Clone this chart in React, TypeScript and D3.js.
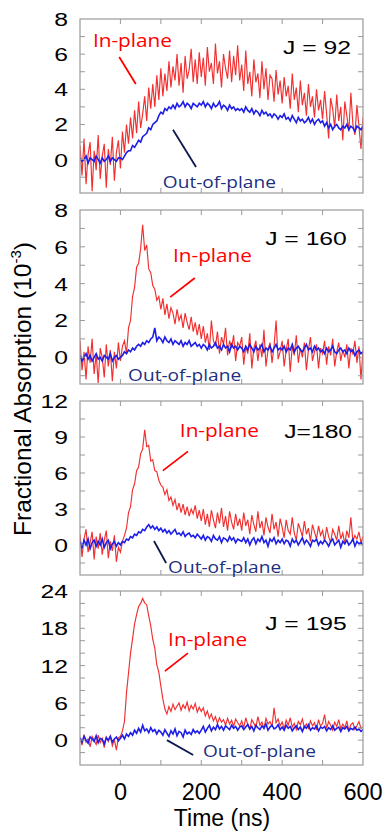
import * as d3 from "d3";

// sampling grid of the traces (ns)
const TIME = d3.range(-100, 601, 5);

// J = 92
const inPlane92 = [
  0.8, -0.9, 1.2, -1.4, 0.3, 1.0, -1.8, 0.5, -0.6, 1.4, -1.1, 0.2, 0.9, -1.6, 0.6, -0.3, 1.3, -1.2, 0.4, 1.1,
  -0.5, 1.6, 0.4, 2.0, 0.9, 2.4, 1.2, 2.8, 1.5, 3.3, 1.8, 2.6, 3.6, 2.2, 4.1, 2.9, 4.3, 3.0, 4.8, 3.4,
  5.2, 3.6, 4.9, 3.9, 5.6, 4.1, 5.3, 4.5, 6.0, 4.2, 5.5, 3.8, 5.9, 4.6, 5.1, 6.3, 4.4, 5.7, 4.3, 6.1,
  4.7, 5.8, 4.2, 6.4, 5.0, 5.5, 4.3, 6.6, 4.9, 5.6, 4.1, 6.0, 5.2, 4.6, 6.2, 4.4, 5.9, 4.8, 6.5, 4.5,
  5.4, 3.9, 6.2, 4.3, 5.0, 3.6, 5.7, 4.4, 4.9, 3.5, 5.6, 4.0, 5.2, 3.4, 4.8, 4.6, 3.3, 5.1, 3.7, 4.5,
  3.2, 4.7, 3.6, 4.2, 2.9, 4.9, 3.4, 4.1, 2.7, 4.5, 3.1, 3.8, 2.5, 4.3, 3.0, 3.6, 2.4, 4.0, 2.8, 3.4,
  2.3, 3.9, 2.6, 1.2, 3.5, 2.9, 1.8, 3.7, 2.2, 3.0, 1.1, 3.3, 2.5, 1.6, 3.8, 2.0, 1.4, 3.1, 1.9, 0.6, 2.4,
];
const outPlane92 = [
  0.1, -0.1, 0.0, 0.2, -0.2, 0.1, 0.0, -0.1, 0.2, 0.0, -0.2, 0.1, -0.1, 0.0, 0.2, -0.1, 0.1, 0.0, -0.1, 0.1,
  0.1, 0.0, 0.2, 0.4, 0.5, 0.5, 0.8, 0.7, 0.9, 1.1, 1.0, 1.3, 1.4, 1.5, 1.8, 1.7, 2.0, 2.1, 2.2, 2.5,
  2.7, 2.6, 2.9, 2.8, 3.0, 2.9, 3.1, 2.9, 3.2, 3.0, 3.1, 3.3, 3.0, 3.2, 3.1, 2.9, 3.2, 3.1, 3.0, 3.2,
  3.1, 3.3, 3.0, 3.2, 3.1, 2.9, 3.2, 3.0, 3.1, 3.3, 2.9, 3.1, 3.0, 2.8, 3.1, 2.9, 3.0, 2.8, 2.9, 2.8,
  2.9, 2.7, 3.0, 2.8, 2.7, 2.9, 2.6, 2.8, 2.7, 2.5, 2.8, 2.6, 2.7, 2.5, 2.6, 2.4, 2.6, 2.5, 2.3, 2.5,
  2.4, 2.6, 2.3, 2.4, 2.2, 2.5, 2.3, 2.1, 2.4, 2.2, 2.3, 2.1, 2.2, 2.4, 2.1, 2.3, 2.0, 2.2, 2.3, 2.1,
  2.2, 1.9, 2.1, 1.8, 2.0, 1.7, 1.9, 2.0, 1.8, 1.7, 1.9, 1.8, 2.0, 1.7, 1.9, 1.8, 1.6, 1.9, 1.8, 1.7, 1.9,
];

// J = 160
const inPlane160 = [
  0.9, -0.7, 0.3, -1.2, 0.6, -0.3, 1.0, -0.9, 0.2, -1.4, 0.5, 0.0, -1.1, 0.7, -0.5, 0.4, -1.3, 0.3, -0.6, 0.8,
  -0.2, 0.6, 0.9, 0.2, 1.6, 2.0, 3.3, 3.8, 4.9, 5.1, 5.9, 7.2, 5.8, 6.1, 4.8, 4.6, 3.9, 3.7, 3.1, 3.3,
  2.6, 3.2, 2.3, 2.9, 2.1, 2.7, 2.4, 1.8, 2.6, 2.0, 2.3, 1.6, 2.4, 1.9, 1.5, 2.2, 1.4, 1.9, 1.2, 1.8,
  1.0, 1.7, 0.8, 1.3, 0.4, 2.0, 0.9, 0.6, 1.4, 0.2, 1.1, 0.7, 1.6, 0.1, 0.9, 0.5, 1.2, -0.2, 0.8, 0.6,
  1.1, -0.4, 0.6, 0.2, 1.3, -0.6, 0.5, 0.9, -0.2, 0.7, 0.0, 1.5, -0.5, 0.4, 0.8, -0.3, 0.6, 2.0, -0.1, 0.3,
  0.9, -0.5, 0.4, 1.0, -0.8, 0.6, 0.1, 1.2, -0.3, 0.5, 0.0, 0.8, -0.7, 0.4, 1.1, -0.2, 0.3, 0.7, -0.6, 0.5,
  0.2, 0.9, -0.4, 0.6, 0.1, 1.0, -0.5, 0.3, 0.8, -0.2, 0.4, 0.0, 0.7, -0.6, 0.5, 0.2, 0.9, -0.3, 0.6, -1.2, 0.4,
];
const outPlane160 = [
  0.1, -0.2, 0.0, 0.2, -0.1, 0.1, -0.2, 0.0, 0.2, -0.1, 0.0, -0.2, 0.1, 0.0, -0.1, 0.2, -0.2, 0.0, 0.1, -0.1,
  0.0, 0.1, 0.3, 0.2, 0.4, 0.3, 0.5, 0.4, 0.6, 0.7, 0.6, 0.8, 0.7, 0.9, 0.8, 1.0, 1.1, 1.6, 0.9, 1.1,
  1.0, 0.8, 1.1, 0.9, 0.8, 1.0, 0.7, 0.9, 0.8, 0.7, 0.9, 0.6, 0.8, 0.7, 0.9, 0.6, 0.7, 0.8, 0.6, 0.7,
  0.5, 0.7, 0.6, 0.4, 0.7, 0.5, 0.6, 0.8, 0.5, 0.6, 0.4, 0.7, 0.5, 0.6, 0.3, 0.7, 0.5, 0.6, 0.4, 0.6,
  0.5, 0.3, 0.6, 0.4, 0.7, 0.5, 0.3, 0.6, 0.4, 0.5, 0.7, 0.3, 0.5, 0.4, 0.6, 0.3, 0.5, 0.7, 0.4, 0.5,
  0.4, 0.6, 0.3, 0.5, 0.4, 0.7, 0.3, 0.5, 0.6, 0.4, 0.3, 0.5, 0.7, 0.4, 0.5, 0.3, 0.6, 0.4, 0.5, 0.3,
  0.4, 0.2, 0.5, 0.3, 0.4, 0.6, 0.3, 0.2, 0.4, 0.5, 0.3, 0.4, 0.2, 0.5, 0.3, 0.4, 0.1, 0.3, 0.4, 0.2, 0.3,
];

// J = 180
const inPlane180 = [
  0.9, -1.0, 0.5, 1.3, -0.6, 0.2, 1.1, -1.2, 0.7, -0.3, 1.0, -0.8, 0.4, 1.2, -1.1, 0.3, -0.5, 0.8, -1.4, -0.2,
  -0.6, 0.3, 0.8, 1.4, 2.7, 3.2, 4.6, 5.1, 6.2, 6.5, 7.6, 8.0, 9.6, 8.2, 8.3, 7.0, 7.1, 6.2, 6.1, 5.4,
  5.0, 4.8, 4.2, 4.6, 3.7, 4.0, 3.3, 3.8, 2.9, 3.5, 2.7, 3.4, 2.5, 3.2, 2.4, 3.0, 2.6, 3.3, 2.2, 2.9,
  2.0, 3.0, 1.7, 2.6, 1.5, 2.9, 2.1, 1.4, 2.7, 1.8, 3.1, 1.5, 2.4, 1.2, 2.8, 1.9, 1.3, 2.6, 1.6, 2.2,
  1.2, 2.7, 1.6, 2.1, 0.9, 2.5, 1.7, 1.1, 2.8, 1.4, 2.0, 0.8, 2.3, 1.5, 1.0, 2.6, 1.3, 1.9, 0.7, 2.2,
  1.5, 0.6, 2.1, 1.2, 0.9, 2.3, 1.0, 0.4, 1.8, 1.3, 0.7, 2.0, 0.9, 1.4, 0.3, 1.7, 1.1, 0.5, 1.6, 0.8,
  1.2, 0.3, 1.5, 0.7, 0.2, 1.3, 0.9, 0.4, 1.6, 0.5, 1.0, 0.1, 1.2, 0.6, 2.3, 0.3, 0.8, 0.5, 1.1, 0.2, 0.7,
];
const outPlane180 = [
  0.3, -0.2, 0.4, 0.0, 0.5, -0.3, 0.2, 0.4, -0.1, 0.3, 0.0, 0.5, -0.2, 0.2, 0.4, -0.3, 0.1, 0.3, -0.1, 0.2,
  0.0, 0.3, 0.2, 0.5, 0.4, 0.7, 0.6, 0.9, 0.8, 1.1, 1.0, 1.3, 1.2, 1.5, 1.7, 1.4, 1.6, 1.3, 1.5, 1.2,
  1.4, 1.1, 1.3, 1.0, 1.2, 0.9, 1.1, 1.3, 0.9, 1.0, 0.8, 1.1, 0.7, 0.9, 1.0, 0.7, 0.8, 0.6, 0.9, 0.7,
  0.5, 0.8, 0.4, 0.7, 0.6, 0.3, 0.8, 0.5, 0.4, 0.7, 0.2, 0.6, 0.5, 0.3, 0.7, 0.4, 0.6, 0.2, 0.5, 0.4,
  0.3, 0.6, 0.2, 0.5, 0.0, 0.4, 0.6, 0.1, 0.5, 0.3, 0.7, 0.2, 0.4, -0.1, 0.5, 0.3, 0.6, 0.1, 0.4, 0.2,
  0.5, 0.1, 0.4, 0.3, -0.1, 0.5, 0.2, 0.4, 0.0, 0.3, 0.6, 0.1, 0.4, 0.2, -0.1, 0.4, 0.3, 0.5, 0.0, 0.3,
  0.1, 0.4, 0.2, -0.1, 0.3, 0.5, 0.0, 0.2, 0.4, -0.2, 0.3, 0.1, 0.4, 0.0, 0.2, 0.5, -0.1, 0.3, 0.1, 0.2, 0.0,
];

// J = 195
const inPlane195 = [
  0.4, -0.8, 0.9, -0.3, 0.2, -1.1, 0.6, 0.0, -0.7, 0.8, -0.4, 0.3, -1.2, 0.5, -0.2, 0.7, -0.9, 0.1, -1.6, 0.4,
  0.6, 1.5, 3.0, 7.6, 10.8, 14.0, 16.3, 18.7, 20.2, 21.5, 22.0, 22.8, 22.1, 21.8, 20.0, 18.4, 16.2, 14.8, 12.1, 10.9,
  8.7, 6.6, 5.0, 4.2, 5.4, 4.6, 5.8, 4.9, 5.5, 6.0, 4.8, 5.7, 5.1, 6.1, 4.7, 5.6, 5.0, 5.9, 4.5, 5.3,
  4.6, 5.2, 3.9, 4.7, 3.5, 4.2, 3.1, 3.8, 2.7, 3.6, 2.9, 3.3, 2.4, 3.5, 2.6, 3.2, 2.2, 3.4, 2.8, 2.3,
  3.1, 2.0, 3.6, 2.5, 1.8, 3.3, 2.7, 2.1, 3.8, 2.4, 2.9, 1.9, 3.5, 2.6, 3.0, 2.2, 5.2, 2.8, 3.4, 2.3,
  2.9, 1.8, 3.2, 2.4, 3.6, 2.1, 2.7, 1.7, 3.0, 2.5, 3.4, 2.0, 2.6, 1.9, 3.1, 2.3, 2.8, 1.6, 3.3, 2.2,
  2.7, 4.1, 1.9, 3.0, 2.4, 1.6, 2.9, 2.2, 3.3, 1.8, 2.6, 2.0, 3.1, 1.5, 2.5, 2.8, 1.7, 2.3, 3.0, 1.9, 2.1,
];
const outPlane195 = [
  0.4, -0.3, 0.6, 0.0, -0.5, 0.5, 0.2, -0.2, 0.7, -0.4, 0.3, 0.1, -0.6, 0.4, 0.0, 0.6, -0.3, 0.2, 0.5, -0.1,
  0.3, 0.8, 0.2, 1.0, 0.6, 1.2, 0.8, 1.6, 1.1, 1.9, 1.3, 2.4, 1.5, 1.8, 1.2, 2.0, 1.4, 1.7, 1.0, 1.6,
  1.3, 0.8, 1.7, 1.1, 0.6, 1.5, 1.0, 1.8, 0.7, 1.4, 1.2, 0.5, 1.6, 1.0, 1.3, 0.9, 1.7, 1.2, 1.5, 1.1,
  1.6, 2.2, 1.3, 1.9, 2.4, 1.5, 2.1, 1.7, 2.5, 1.8, 2.2, 1.6, 2.3, 2.0, 1.7, 2.4, 1.9, 2.2, 1.6, 2.1,
  2.3, 1.7, 2.1, 2.5, 1.8, 2.2, 1.5, 2.4, 2.0, 1.7, 2.3, 1.9, 2.6, 1.6, 2.1, 2.4, 1.8, 2.0, 2.5, 1.7,
  2.1, 1.6, 2.4, 1.9, 2.2, 1.5, 2.0, 2.3, 1.7, 2.1, 1.4, 2.2, 1.9, 2.5, 1.6, 2.0, 1.8, 2.3, 1.5, 2.1,
  1.9, 2.2, 1.5, 2.0, 1.7, 2.3, 1.6, 1.9, 2.1, 1.4, 2.0, 1.8, 2.2, 1.5, 1.9, 1.7, 2.1, 1.6, 1.8, 1.4, 1.7,
];

const IN_PLANE = [inPlane92, inPlane160, inPlane180, inPlane195];
const OUT_PLANE = [outPlane92, outPlane160, outPlane180, outPlane195];
const J_LABELS = ["J = 92", "J = 160", "J=180", "J = 195"];
const Y_DOMAINS = [[-1.9, 8], [-1.45, 8], [-2.5, 12], [-4, 24]];
const Y_TICK_LABELS = [[0, 2, 4, 6, 8], [0, 2, 4, 6, 8], [0, 3, 6, 9, 12], [0, 6, 12, 18, 24]];
const Y_MINOR_STEP = [1, 1, 1.5, 2];
const X_TICKS = [0, 100, 200, 300, 400, 500];
const X_TICK_LABELS = [0, 200, 400, 600];

// annotation anchors in data units [time, value]
const J_POS = [[402, 6.0], [358, 6.1], [405, 8.9], [358, 17.7]];
const IN_TEXT = [[-68, 6.4], [130, 5.2], [147, 9.0], [118, 15.1]];
const IN_LEAD = [[[-3, 5.84], [38, 4.3]], [[123, 3.27], [184, 4.31]], [[105, 6.2], [167, 7.8]], [[110, 11.1], [167, 14.0]]];
const OUT_TEXT = [[105, -1.62], [19, -1.29], [118, -2.33], [204, -2.71]];
const OUT_LEAD = [[[130, 1.7], [187, -0.42]], null, [[83, 0.33], [113, -1.5]], [[115, 0.0], [180, -2.4]]];

const W = 384;
const H = 833;
const TOPS = [19, 210, 401, 591];
const PH = 174;
const ARIAL = "'Liberation Sans', Arial, sans-serif";
const CAL = "'Open Sans', 'Noto Sans', sans-serif";
const FRAME = "#9a9a9a";
const RED = "#f01818";
const BLUE = "#1e1ee6";
const NAVY = "#1c2f80";

const x = d3.scaleLinear().domain([-100, 600]).range([80, 363]);

const Panel = ({ i }: { i: number }) => {
  const top = TOPS[i];
  const [d0, d1] = Y_DOMAINS[i];
  const y = d3.scaleLinear().domain([d0, d1]).range([top + PH, top]);
  const step = Y_MINOR_STEP[i];
  const minor = d3.range(Math.ceil(d0 / step) * step, d1, step).filter((v) => v > d0 + 0.01);
  const line = d3
    .line<number>()
    .x((_, k) => x(TIME[k]))
    .y((v) => y(v));
  const pt = (p: number[]) => [x(p[0]), y(p[1])];
  const [jx, jy] = pt(J_POS[i]);
  const [ix, iy] = pt(IN_TEXT[i]);
  const [ox, oy] = pt(OUT_TEXT[i]);
  const inLead = IN_LEAD[i].map(pt);
  const outLead = OUT_LEAD[i] ? OUT_LEAD[i]!.map(pt) : null;
  const [r0, r1] = x.range();

  return (
    <g>
      <clipPath id={`clip${i}`}>
        <rect x={r0} y={top} width={r1 - r0} height={PH} />
      </clipPath>
      <g clipPath={`url(#clip${i})`}>
        <path d={line(IN_PLANE[i]) || ""} fill="none" stroke={RED} strokeWidth={1.15} strokeOpacity={0.9} />
        <path d={line(OUT_PLANE[i]) || ""} fill="none" stroke={BLUE} strokeWidth={1.6} />
      </g>
      <rect x={r0} y={top} width={r1 - r0} height={PH} fill="none" stroke={FRAME} strokeWidth={1.2} />
      {minor.map((v) => (
        <g key={v} stroke={FRAME} strokeWidth={1}>
          <line x1={r0} x2={r0 + 5} y1={y(v)} y2={y(v)} />
          <line x1={r1} x2={r1 - 5} y1={y(v)} y2={y(v)} />
        </g>
      ))}
      {X_TICKS.map((t) => (
        <g key={t} stroke={FRAME} strokeWidth={1}>
          <line x1={x(t)} x2={x(t)} y1={top} y2={top + 5} />
          <line x1={x(t)} x2={x(t)} y1={top + PH} y2={top + PH - 5} />
        </g>
      ))}
      {Y_TICK_LABELS[i].map((v) => (
        <text
          key={v}
          transform={`translate(68,${y(v) + 7}) scale(1.3,1)`}
          fontFamily={ARIAL}
          fontSize={19}
          textAnchor="end"
        >
          {v}
        </text>
      ))}
      <text transform={`translate(${jx},${jy}) scale(1.3,1)`} fontFamily={ARIAL} fontSize={19}>
        {J_LABELS[i]}
      </text>
      <text x={ix} y={iy} fontFamily={CAL} fontSize={18} fill="#ff0000" textLength={79} lengthAdjust="spacingAndGlyphs">
        In-plane
      </text>
      <line x1={inLead[0][0]} y1={inLead[0][1]} x2={inLead[1][0]} y2={inLead[1][1]} stroke="#ff0000" strokeWidth={1.8} />
      <text x={ox} y={oy} fontFamily={CAL} fontSize={16.6} fill={NAVY} textLength={113} lengthAdjust="spacingAndGlyphs">
        Out-of-plane
      </text>
      {outLead && (
        <line x1={outLead[0][0]} y1={outLead[0][1]} x2={outLead[1][0]} y2={outLead[1][1]} stroke="#0d1a4d" strokeWidth={1.8} />
      )}
    </g>
  );
};

const App = () => (
  <svg width={W} height={H} style={{ position: "absolute", left: 0, top: 0, background: "#fff" }}>
    {IN_PLANE.map((_, i) => (
      <Panel key={i} i={i} />
    ))}
    {X_TICK_LABELS.map((t) => (
      <text key={t} x={x(t)} y={800} fontFamily={ARIAL} fontSize={23.5} textAnchor="middle">
        {t}
      </text>
    ))}
    <text x={222} y={826} fontFamily={ARIAL} fontSize={23} textAnchor="middle">
      Time (ns)
    </text>
    <text transform="translate(31,389) rotate(-90)" fontFamily={ARIAL} fontSize={24.5} textAnchor="middle">
      Fractional Absorption (10
      <tspan fontSize={15} dy={-10}>-3</tspan>
      <tspan dy={10}>)</tspan>
    </text>
  </svg>
);

export default App;
